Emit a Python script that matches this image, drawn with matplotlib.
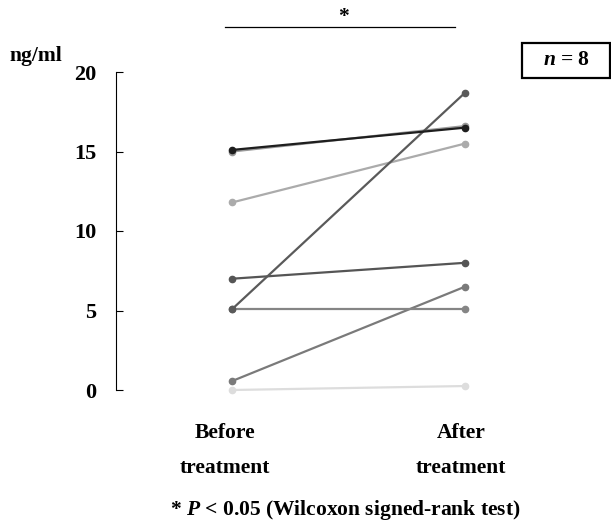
import matplotlib.pyplot as plt
import numpy as np

plt.rcParams['font.family'] = 'Liberation Serif'
plt.rcParams['font.weight'] = 'bold'
plt.rcParams['mathtext.fontset'] = 'custom'
plt.rcParams['mathtext.rm'] = 'Liberation Serif:bold'
plt.rcParams['mathtext.it'] = 'Liberation Serif:italic:bold'

# valores por paciente (ng/ml)
before = [15.1, 15.0, 11.8, 5.1, 7.0, 5.1, 0.57, 0.0]
after = [16.5, 16.6, 15.5, 18.7, 8.0, 5.1, 6.5, 0.25]
colors = ['#1e1e1e', '#9a9a9a', '#ababab', '#5a5a5a', '#555555', '#858585', '#7a7a7a', '#dddddd']
yticks = [0, 5, 10, 15, 20]

W, H = 611, 528
fig = plt.figure(figsize=(W / 100, H / 100), dpi=100)
ax = fig.add_axes([116 / W, 1 - 390 / H, 384 / W, 318 / H])

# dibujar de abajo hacia arriba para que las líneas oscuras queden encima
order = [7, 6, 5, 4, 2, 1, 3, 0]
for i in order:
    ax.plot([0, 1], [before[i], after[i]], color=colors[i], lw=1.6,
            marker='o', ms=4.5, clip_on=False)

ax.set_xlim(-0.5, 1.15)
ax.set_ylim(0, 20)
ax.set_yticks(yticks)
ax.set_yticklabels([str(t) for t in yticks], fontsize=16, fontweight='bold')
ax.tick_params(axis='y', direction='in', length=5, width=0.8, pad=14)
ax.set_xticks([])
for s in ['top', 'right', 'bottom']:
    ax.spines[s].set_visible(False)
ax.spines['left'].set_linewidth(0.8)

fs = 15.5
fig.text(9 / W, 1 - 56 / H, 'ng/ml', fontsize=fs, fontweight='bold', ha='left', va='center')

# etiquetas de grupos
for xx, lab in [(225, 'Before'), (461, 'After')]:
    fig.text(xx / W, 1 - 433 / H, lab, fontsize=fs, fontweight='bold', ha='center', va='center')
    fig.text(xx / W, 1 - 468 / H, 'treatment', fontsize=fs, fontweight='bold', ha='center', va='center')

# barra de significancia
fig.add_artist(plt.Line2D([225 / W, 455 / W], [1 - 27 / H, 1 - 27 / H], color='black', lw=0.9))
fig.text(343 / W, 1 - 17 / H, '*', fontsize=fs, fontweight='bold', ha='center', va='center')

# recuadro n = 8
fig.add_artist(plt.Rectangle((522 / W, 1 - 78 / H), 88 / W, 35 / H, fill=False,
                             edgecolor='black', lw=1.6))
fig.text(567 / W, 1 - 60 / H, r'$\mathit{n}$ = 8', fontsize=fs, fontweight='bold', ha='center', va='center')

fig.text(345 / W, 1 - 510 / H, r'* $\mathit{P}$ < 0.05 (Wilcoxon signed-rank test)', fontsize=fs,
         fontweight='bold', ha='center', va='center')

fig.savefig('out.png', dpi=100)
